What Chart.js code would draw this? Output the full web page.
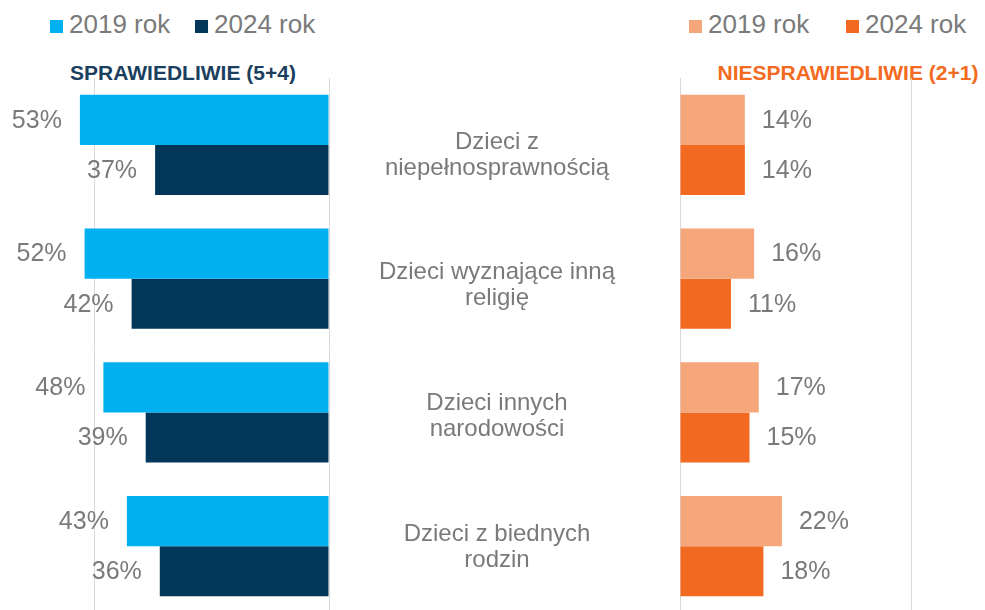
<!DOCTYPE html>
<html lang="pl">
<head>
<meta charset="utf-8">
<script src="https://cdn.jsdelivr.net/npm/chart.js@4.4.1/dist/chart.umd.min.js"></script>
<style>
  body { margin: 0; width: 985px; height: 610px; overflow: hidden; background: #fff; position: relative;
         font-family: "Liberation Sans", Arial, sans-serif; }
  .wrap { position: absolute; }
  .sq { position: absolute; width: 13px; height: 13px; }
  .lg { position: absolute; top: 11px; font-size: 26px; line-height: 26px; color: #7a7a7a; white-space: nowrap; }
  .title { position: absolute; top: 62px; font-size: 21px; line-height: 21px; font-weight: bold; text-align: center; white-space: nowrap; }
</style>
</head>
<body>

<div class="title" style="left:0; width:366px; color:#1b3f5e;">SPRAWIEDLIWIE (5+4)</div>
<div class="title" style="left:716px; width:264px; color:#f26b21;">NIESPRAWIEDLIWIE (2+1)</div>

<div id="legendLeft"></div>
<div id="legendRight"></div>

<div class="wrap" style="left:0; top:78px; width:340px; height:535px;"><canvas id="chartFair"></canvas></div>
<div class="wrap" style="left:340px; top:78px; width:645px; height:535px;"><canvas id="chartUnfair"></canvas></div>

<script>
// data
const categories = [
    ['Dzieci z', 'niepełnosprawnością'],
    ['Dzieci wyznające inną', 'religię'],
    ['Dzieci innych', 'narodowości'],
    ['Dzieci z biednych', 'rodzin']
];
const seriesNames = ['2019 rok', '2024 rok'];
const fair2019 = [53, 52, 48, 43];
const fair2024 = [37, 42, 39, 36];
const unfair2019 = [14, 16, 17, 22];
const unfair2024 = [14, 11, 15, 18];
const gridTicks = [0, 50];

const fairColors = ['#00b0f0', '#03375a'];
const unfairColors = ['#f5a77b', '#f26a22'];

// simple html legends
function makeLegend(id, colors, positions) {
    let output = '';
    for (let i = 0; i < seriesNames.length; i++) {
        output += `<div class="sq" style="left:${positions[i]}px; top:20px; background:${colors[i]}"></div>`;
        output += `<div class="lg" style="left:${positions[i] + 19}px">${seriesNames[i]}</div>`;
    }
    document.getElementById(id).innerHTML = output;
}
makeLegend('legendLeft', fairColors, [50, 195]);
makeLegend('legendRight', unfairColors, [689, 846]);

// percent labels next to the bars
const valueLabels = {
    id: 'valueLabels',
    afterDatasetsDraw(chart, args, opts) {
        const ctx = chart.ctx;
        ctx.save();
        ctx.font = '25px "Liberation Sans", Arial, sans-serif';
        ctx.fillStyle = '#7a7a7a';
        ctx.textBaseline = 'middle';
        ctx.textAlign = opts.side == 'left' ? 'right' : 'left';
        chart.data.datasets.forEach((ds, i) => {
            chart.getDatasetMeta(i).data.forEach((bar, j) => {
                let x = opts.side == 'left' ? bar.x - 18 : bar.x + 17;
                ctx.fillText(ds.data[j] + '%', x, bar.y + 1);
            });
        });
        ctx.restore();
    }
};

// category names in the middle gap
const categoryLabels = {
    id: 'categoryLabels',
    afterDraw(chart) {
        const ctx = chart.ctx;
        const yScale = chart.scales.y;
        ctx.save();
        ctx.font = '24px "Liberation Sans", Arial, sans-serif';
        ctx.fillStyle = '#7a7a7a';
        ctx.textAlign = 'center';
        ctx.textBaseline = 'middle';
        categories.forEach((lines, i) => {
            let cy = yScale.getPixelForValue(i) + 10 - 3 * i;
            lines.forEach((t, k) => {
                ctx.fillText(t, chart.chartArea.left - 183, cy + (k - (lines.length - 1) / 2) * 26);
            });
        });
        ctx.restore();
    }
};

function makeChart(canvasId, values, colors, side, max, padding, extraPlugins) {
    const ctx = document.getElementById(canvasId);
    const config = {
        type: 'bar',
        data: {
            labels: categories,
            datasets: values.map((v, i) => ({
                label: seriesNames[i],
                data: v,
                backgroundColor: colors[i],
                borderWidth: 0,
                categoryPercentage: 0.75,
                barPercentage: 1
            }))
        },
        options: {
            indexAxis: 'y',
            responsive: true,
            maintainAspectRatio: false,
            animation: false,
            layout: { padding: padding },
            plugins: {
                legend: { display: false },
                tooltip: { enabled: false },
                valueLabels: { side: side }
            },
            scales: {
                x: {
                    reverse: side == 'left',
                    min: 0,
                    max: max,
                    afterBuildTicks: axis => { axis.ticks = gridTicks.map(v => ({ value: v })); },
                    ticks: { display: false },
                    grid: { color: '#d9d9d9', lineWidth: 1, drawTicks: false },
                    border: { display: false }
                },
                y: { display: false }
            }
        },
        plugins: [valueLabels].concat(extraPlugins)
    };
    return new Chart(ctx, config);
}

makeChart('chartFair', [fair2019, fair2024], fairColors, 'left', 70, { left: 0, right: 11, top: 0, bottom: 0 }, []);
makeChart('chartUnfair', [unfair2019, unfair2024], unfairColors, 'right', 60, { left: 340, right: 27, top: 0, bottom: 0 }, [categoryLabels]);
</script>
</body>
</html>
